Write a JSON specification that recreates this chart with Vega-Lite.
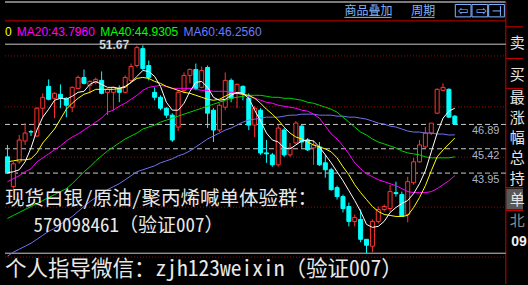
{
 "$schema": "https://vega.github.io/schema/vega-lite/v6.json",
 "width": 528, "height": 285,
 "autosize": {"type": "fit", "contains": "padding"},
 "padding": 0,
 "background": "#000000",
 "config": {"view": {"stroke": null}},
 "datasets": {
  "k": [
{"t":0,"o":44.93,"h":45.65,"l":43.91,"c":43.97,"m5":43.97,"m10":44.63,"m20":43.43,"m40":41.21,"m60":38.93},
{"t":1,"o":43.13,"h":44.63,"l":43.01,"c":44.51,"m5":44.03,"m10":44.69,"m20":43.61,"m40":41.39,"m60":39.17},
{"t":2,"o":44.63,"h":46.25,"l":44.51,"c":45.95,"m5":44.15,"m10":44.75,"m20":43.79,"m40":41.57,"m60":39.35},
{"t":3,"o":45.89,"h":46.97,"l":45.65,"c":46.37,"m5":44.63,"m10":44.75,"m20":44.03,"m40":41.75,"m60":39.53},
{"t":4,"o":46.46,"h":46.55,"l":46.19,"c":46.43,"m5":45.47,"m10":44.81,"m20":44.21,"m40":41.93,"m60":39.71},
{"t":5,"o":46.19,"h":47.93,"l":46.13,"c":47.87,"m5":46.55,"m10":45.17,"m20":44.63,"m40":42.11,"m60":39.95},
{"t":6,"o":47.87,"h":48.77,"l":47.33,"c":48.53,"m5":47.33,"m10":45.77,"m20":44.87,"m40":42.29,"m60":40.19},
{"t":7,"o":49.19,"h":49.61,"l":48.35,"c":48.41,"m5":47.81,"m10":46.19,"m20":45.11,"m40":42.47,"m60":40.43},
{"t":8,"o":48.47,"h":48.83,"l":47.27,"c":48.77,"m5":48.35,"m10":46.61,"m20":45.35,"m40":42.65,"m60":40.61},
{"t":9,"o":48.71,"h":49.31,"l":47.87,"c":48.47,"m5":48.47,"m10":47.21,"m20":45.59,"m40":42.83,"m60":40.85},
{"t":10,"o":48.47,"h":48.53,"l":47.33,"c":48.05,"m5":48.41,"m10":47.81,"m20":45.89,"m40":43.01,"m60":41.09},
{"t":11,"o":47.93,"h":49.19,"l":47.63,"c":49.13,"m5":48.59,"m10":48.17,"m20":46.13,"m40":43.31,"m60":41.33},
{"t":12,"o":49.07,"h":49.85,"l":49.01,"c":49.73,"m5":48.83,"m10":48.47,"m20":46.31,"m40":43.67,"m60":41.63},
{"t":13,"o":49.73,"h":50.21,"l":49.31,"c":49.37,"m5":48.89,"m10":48.71,"m20":46.55,"m40":44.03,"m60":41.93},
{"t":14,"o":49.25,"h":49.55,"l":48.77,"c":49.49,"m5":49.31,"m10":48.83,"m20":46.79,"m40":44.33,"m60":42.23},
{"t":15,"o":49.43,"h":49.73,"l":49.31,"c":49.61,"m5":49.49,"m10":49.01,"m20":47.03,"m40":44.69,"m60":42.47},
{"t":16,"o":49.55,"h":50.09,"l":48.71,"c":48.77,"m5":49.31,"m10":49.01,"m20":47.27,"m40":44.99,"m60":42.71},
{"t":17,"o":48.83,"h":49.07,"l":47.45,"c":49.01,"m5":49.13,"m10":49.01,"m20":47.63,"m40":45.29,"m60":42.95},
{"t":18,"o":48.83,"h":49.19,"l":47.75,"c":49.13,"m5":49.13,"m10":49.01,"m20":47.75,"m40":45.53,"m60":43.13},
{"t":19,"o":49.07,"h":49.25,"l":48.23,"c":48.83,"m5":49.07,"m10":49.07,"m20":47.99,"m40":45.77,"m60":43.31},
{"t":20,"o":48.83,"h":49.85,"l":48.77,"c":49.73,"m5":49.19,"m10":49.13,"m20":48.17,"m40":46.01,"m60":43.55},
{"t":21,"o":49.55,"h":50.57,"l":49.43,"c":50.39,"m5":49.43,"m10":49.43,"m20":48.41,"m40":46.19,"m60":43.79},
{"t":22,"o":50.45,"h":51.65,"l":50.33,"c":51.53,"m5":49.79,"m10":49.67,"m20":48.65,"m40":46.37,"m60":44.03},
{"t":23,"o":51.47,"h":51.67,"l":50.15,"c":50.27,"m5":50.15,"m10":49.73,"m20":48.95,"m40":46.61,"m60":44.15},
{"t":24,"o":50.45,"h":50.75,"l":49.55,"c":49.73,"m5":50.09,"m10":49.67,"m20":49.13,"m40":46.73,"m60":44.27},
{"t":25,"o":48.83,"h":49.13,"l":48.35,"c":48.53,"m5":49.79,"m10":49.49,"m20":49.19,"m40":46.85,"m60":44.39},
{"t":26,"o":48.53,"h":48.65,"l":47.75,"c":47.87,"m5":49.19,"m10":49.37,"m20":49.25,"m40":47.03,"m60":44.57},
{"t":27,"o":47.87,"h":47.93,"l":47.27,"c":47.45,"m5":48.23,"m10":49.19,"m20":49.19,"m40":47.15,"m60":44.69},
{"t":28,"o":47.45,"h":47.57,"l":45.83,"c":45.95,"m5":47.75,"m10":49.07,"m20":49.07,"m40":47.27,"m60":44.81},
{"t":29,"o":46.73,"h":48.95,"l":46.49,"c":48.83,"m5":47.75,"m10":48.95,"m20":49.07,"m40":47.39,"m60":44.99},
{"t":30,"o":48.95,"h":50.03,"l":48.77,"c":49.85,"m5":48.17,"m10":48.83,"m20":49.07,"m40":47.51,"m60":45.11},
{"t":31,"o":49.85,"h":50.27,"l":49.37,"c":50.21,"m5":48.89,"m10":48.77,"m20":49.07,"m40":47.63,"m60":45.29},
{"t":32,"o":50.21,"h":50.57,"l":48.95,"c":49.07,"m5":49.43,"m10":48.65,"m20":49.01,"m40":47.75,"m60":45.53},
{"t":33,"o":49.13,"h":50.39,"l":49.07,"c":50.15,"m5":49.49,"m10":48.53,"m20":48.95,"m40":47.87,"m60":45.77},
{"t":34,"o":50.33,"h":50.45,"l":46.67,"c":47.57,"m5":49.13,"m10":48.41,"m20":48.95,"m40":47.99,"m60":46.01},
{"t":35,"o":47.75,"h":47.87,"l":45.83,"c":46.55,"m5":48.53,"m10":48.35,"m20":48.89,"m40":48.11,"m60":46.19},
{"t":36,"o":46.55,"h":48.17,"l":46.43,"c":48.05,"m5":48.35,"m10":48.41,"m20":48.89,"m40":48.23,"m60":46.37},
{"t":37,"o":47.93,"h":50.03,"l":47.75,"c":49.55,"m5":48.41,"m10":48.59,"m20":48.89,"m40":48.35,"m60":46.55},
{"t":38,"o":49.55,"h":49.67,"l":48.23,"c":48.47,"m5":48.65,"m10":48.77,"m20":48.83,"m40":48.47,"m60":46.67},
{"t":39,"o":48.77,"h":49.37,"l":47.87,"c":49.31,"m5":48.83,"m10":48.77,"m20":48.77,"m40":48.53,"m60":46.85},
{"t":40,"o":49.19,"h":49.25,"l":48.35,"c":48.77,"m5":48.77,"m10":48.71,"m20":48.71,"m40":48.59,"m60":47.03},
{"t":41,"o":48.47,"h":48.77,"l":46.55,"c":46.85,"m5":48.47,"m10":48.65,"m20":48.59,"m40":48.65,"m60":47.15},
{"t":42,"o":46.85,"h":47.99,"l":46.13,"c":47.87,"m5":47.75,"m10":48.47,"m20":48.47,"m40":48.65,"m60":47.21},
{"t":43,"o":47.75,"h":47.87,"l":45.05,"c":45.17,"m5":47.09,"m10":48.17,"m20":48.35,"m40":48.65,"m60":47.27},
{"t":44,"o":45.17,"h":45.95,"l":44.57,"c":45.11,"m5":46.37,"m10":47.81,"m20":48.23,"m40":48.59,"m60":47.33},
{"t":45,"o":45.05,"h":45.17,"l":44.33,"c":44.45,"m5":45.95,"m10":47.51,"m20":48.17,"m40":48.53,"m60":47.33},
{"t":46,"o":44.45,"h":46.85,"l":44.33,"c":46.67,"m5":45.83,"m10":47.15,"m20":48.05,"m40":48.53,"m60":47.33},
{"t":47,"o":46.55,"h":46.67,"l":44.93,"c":45.05,"m5":45.47,"m10":46.73,"m20":47.99,"m40":48.47,"m60":47.39},
{"t":48,"o":45.05,"h":45.77,"l":44.93,"c":45.47,"m5":45.41,"m10":46.37,"m20":47.93,"m40":48.47,"m60":47.45},
{"t":49,"o":45.77,"h":47.09,"l":45.71,"c":46.97,"m5":45.65,"m10":46.13,"m20":47.87,"m40":48.41,"m60":47.45},
{"t":50,"o":46.79,"h":46.85,"l":45.47,"c":45.83,"m5":45.89,"m10":46.01,"m20":47.75,"m40":48.35,"m60":47.51},
{"t":51,"o":45.95,"h":46.07,"l":45.29,"c":45.35,"m5":45.95,"m10":45.83,"m20":47.69,"m40":48.23,"m60":47.51},
{"t":52,"o":45.47,"h":45.95,"l":44.45,"c":45.65,"m5":45.89,"m10":45.65,"m20":47.51,"m40":48.17,"m60":47.51},
{"t":53,"o":45.53,"h":45.83,"l":44.39,"c":44.45,"m5":45.53,"m10":45.53,"m20":47.27,"m40":48.05,"m60":47.45},
{"t":54,"o":44.57,"h":45.05,"l":43.67,"c":44.15,"m5":45.05,"m10":45.41,"m20":46.79,"m40":47.93,"m60":47.45},
{"t":55,"o":44.15,"h":44.27,"l":42.89,"c":42.95,"m5":44.57,"m10":45.23,"m20":46.31,"m40":47.81,"m60":47.45},
{"t":56,"o":43.07,"h":43.19,"l":42.35,"c":42.53,"m5":44.03,"m10":44.87,"m20":46.01,"m40":47.63,"m60":47.39},
{"t":57,"o":42.53,"h":42.65,"l":41.57,"c":41.81,"m5":43.49,"m10":44.33,"m20":45.59,"m40":47.33,"m60":47.39},
{"t":58,"o":41.93,"h":42.17,"l":40.73,"c":41.03,"m5":42.89,"m10":43.85,"m20":45.11,"m40":47.03,"m60":47.33},
{"t":59,"o":41.03,"h":41.45,"l":40.73,"c":41.27,"m5":42.29,"m10":43.25,"m20":44.57,"m40":46.73,"m60":47.33},
{"t":60,"o":41.15,"h":41.75,"l":39.77,"c":39.95,"m5":41.63,"m10":42.77,"m20":44.21,"m40":46.43,"m60":47.27},
{"t":61,"o":39.95,"h":39.95,"l":39.11,"c":39.59,"m5":40.85,"m10":42.35,"m20":43.91,"m40":46.25,"m60":47.21},
{"t":62,"o":39.53,"h":41.15,"l":39.17,"c":41.03,"m5":40.67,"m10":41.93,"m20":43.73,"m40":46.01,"m60":47.09},
{"t":63,"o":41.03,"h":41.93,"l":40.91,"c":41.75,"m5":40.73,"m10":41.63,"m20":43.55,"m40":45.83,"m60":46.97},
{"t":64,"o":41.75,"h":42.05,"l":41.63,"c":41.93,"m5":41.03,"m10":41.45,"m20":43.43,"m40":45.71,"m60":46.91},
{"t":65,"o":41.81,"h":43.25,"l":41.63,"c":42.83,"m5":41.57,"m10":41.39,"m20":43.31,"m40":45.59,"m60":46.79},
{"t":66,"o":42.77,"h":43.43,"l":42.53,"c":42.71,"m5":41.87,"m10":41.33,"m20":43.19,"m40":45.47,"m60":46.73},
{"t":67,"o":42.65,"h":42.83,"l":41.33,"c":41.33,"m5":42.11,"m10":41.33,"m20":43.01,"m40":45.29,"m60":46.61},
{"t":68,"o":41.45,"h":43.73,"l":40.97,"c":43.43,"m5":42.29,"m10":41.39,"m20":42.83,"m40":45.17,"m60":46.49},
{"t":69,"o":43.37,"h":44.87,"l":43.25,"c":44.63,"m5":42.71,"m10":41.87,"m20":42.77,"m40":45.11,"m60":46.43},
{"t":70,"o":44.63,"h":45.95,"l":44.57,"c":45.65,"m5":43.31,"m10":42.47,"m20":42.77,"m40":45.05,"m60":46.43},
{"t":71,"o":45.53,"h":46.73,"l":45.47,"c":46.37,"m5":44.09,"m10":43.19,"m20":42.77,"m40":44.93,"m60":46.37},
{"t":72,"o":46.37,"h":46.97,"l":46.25,"c":46.97,"m5":45.23,"m10":44.09,"m20":42.83,"m40":44.87,"m60":46.37},
{"t":73,"o":47.57,"h":49.07,"l":47.51,"c":49.01,"m5":46.37,"m10":44.93,"m20":43.01,"m40":44.87,"m60":46.31},
{"t":74,"o":48.95,"h":49.37,"l":48.89,"c":49.13,"m5":47.27,"m10":45.35,"m20":43.25,"m40":44.87,"m60":46.31},
{"t":75,"o":49.01,"h":49.07,"l":47.27,"c":47.33,"m5":47.69,"m10":45.71,"m20":43.49,"m40":44.87,"m60":46.25},
{"t":76,"o":47.39,"h":47.45,"l":46.91,"c":46.91,"m5":47.87,"m10":46.07,"m20":43.8,"m40":44.93,"m60":46.26}
  ],
  "dot": [{"v":51.03},{"v":47.95},{"v":44.91},{"v":41.89},{"v":38.87}],
  "dash": [{"v":46.89},{"v":45.42},{"v":43.95}],
  "sep": [{"v":52.79},{"v":50.87},{"v":49.07},{"v":43.07},{"v":41.69}]
 },
 "layer": [
  {"data": {"values": [{}]},
   "mark": {"type": "rule", "color": "#7a7a7a", "strokeWidth": 2},
   "encoding": {
    "x": {"datum": -0.416667, "type": "quantitative", "scale": {"domain": [-0.416667, 87.583333], "nice": false, "zero": false}, "axis": null},
    "x2": {"datum": 84.667},
    "y": {"datum": 54.288, "type": "quantitative", "scale": {"domain": [37.248, 54.348], "nice": false, "zero": false}, "axis": null}}},
  {"data": {"values": [{}]},
   "mark": {"type": "rule", "color": "#cc0000", "strokeWidth": 1},
   "encoding": {"x": {"datum": -0.416667, "type": "quantitative"}, "x2": {"datum": 84.667}, "y": {"datum": 53.148, "type": "quantitative"}}},
  {"data": {"values": [{}]},
   "mark": {"type": "rule", "color": "#cc0000", "strokeWidth": 1},
   "encoding": {"x": {"datum": 84.667, "type": "quantitative"}, "y": {"datum": 54.348, "type": "quantitative"}, "y2": {"datum": 37.248}}},
  {"data": {"name": "sep"},
   "mark": {"type": "rule", "color": "#cc0000", "strokeWidth": 1},
   "encoding": {"x": {"datum": 84.667, "type": "quantitative"}, "x2": {"datum": 87.583}, "y": {"field": "v", "type": "quantitative"}}},
  {"data": {"values": [{}]},
   "mark": {"type": "rect", "color": "#585858"},
   "encoding": {"x": {"datum": 84.75, "type": "quantitative"}, "x2": {"datum": 87.583}, "y": {"datum": 43.008, "type": "quantitative"}, "y2": {"datum": 41.748}}},
  {"data": {"values": [{}]},
   "mark": {"type": "rule", "color": "#c8c8c8", "strokeWidth": 1},
   "encoding": {"x": {"datum": -0.416667, "type": "quantitative"}, "x2": {"datum": 84.667}, "y": {"datum": 51.738, "type": "quantitative"}}},
  {"data": {"values": [{}]},
   "mark": {"type": "rule", "color": "#c8c8c8", "strokeWidth": 1},
   "encoding": {"x": {"datum": -0.416667, "type": "quantitative"}, "x2": {"datum": 84.667}, "y": {"datum": 39.108, "type": "quantitative"}}},
  {"data": {"name": "dot"},
   "mark": {"type": "rule", "color": "#a00000", "strokeWidth": 1, "strokeDash": [1, 2]},
   "encoding": {"x": {"datum": -0.416667, "type": "quantitative"}, "x2": {"datum": 84.667}, "y": {"field": "v", "type": "quantitative"}}},
  {"data": {"name": "dash"},
   "mark": {"type": "rule", "color": "#c8c8c8", "strokeWidth": 1, "strokeDash": [5, 3]},
   "encoding": {"x": {"datum": -0.416667, "type": "quantitative"}, "x2": {"datum": 84.667}, "y": {"field": "v", "type": "quantitative"}}},
  {"data": {"name": "dash"},
   "mark": {"type": "text", "align": "right", "baseline": "middle", "dy": 7, "font": "Liberation Sans", "fontSize": 11, "fill": "#aab4c8"},
   "encoding": {"x": {"datum": 83.583, "type": "quantitative"}, "y": {"field": "v", "type": "quantitative"}, "text": {"field": "v", "type": "quantitative", "format": ".2f"}}},
  {"data": {"name": "k"},
   "mark": {"type": "rule", "strokeWidth": 1},
   "encoding": {
    "x": {"field": "t", "type": "quantitative"},
    "y": {"field": "l", "type": "quantitative"},
    "y2": {"field": "h"},
    "color": {"condition": {"test": "datum.c >= datum.o", "value": "#ff3333"}, "value": "#00ffff"}}},
  {"data": {"name": "k"},
   "mark": {"type": "bar", "size": 4, "strokeWidth": 1},
   "encoding": {
    "x": {"field": "t", "type": "quantitative"},
    "y": {"field": "o", "type": "quantitative"},
    "y2": {"field": "c"},
    "fill": {"condition": {"test": "datum.c >= datum.o", "value": "#000000"}, "value": "#00ffff"},
    "stroke": {"condition": {"test": "datum.c >= datum.o", "value": "#ff3333"}, "value": "#00ffff"}}},
  {"data": {"name": "k"},
   "mark": {"type": "line", "color": "#7272f0", "strokeWidth": 1},
   "encoding": {"x": {"field": "t", "type": "quantitative"}, "y": {"field": "m60", "type": "quantitative"}}},
  {"data": {"name": "k"},
   "mark": {"type": "line", "color": "#00d400", "strokeWidth": 1},
   "encoding": {"x": {"field": "t", "type": "quantitative"}, "y": {"field": "m40", "type": "quantitative"}}},
  {"data": {"name": "k"},
   "mark": {"type": "line", "color": "#ff00ff", "strokeWidth": 1},
   "encoding": {"x": {"field": "t", "type": "quantitative"}, "y": {"field": "m20", "type": "quantitative"}}},
  {"data": {"name": "k"},
   "mark": {"type": "line", "color": "#ffff00", "strokeWidth": 1},
   "encoding": {"x": {"field": "t", "type": "quantitative"}, "y": {"field": "m10", "type": "quantitative"}}},
  {"data": {"name": "k"},
   "mark": {"type": "line", "color": "#ffffff", "strokeWidth": 1},
   "encoding": {"x": {"field": "t", "type": "quantitative"}, "y": {"field": "m5", "type": "quantitative"}}},
  {"data": {"values": [{}]},
   "mark": {"type": "text", "text": "0", "align": "left", "baseline": "middle", "font": "Liberation Sans", "fontSize": 12, "fill": "#ffff00", "clip": true},
   "encoding": {"x": {"datum": -0.416667, "type": "quantitative"}, "y": {"datum": 52.488, "type": "quantitative"}}},
  {"data": {"values": [{}]},
   "mark": {"type": "text", "text": "MA20:43.7960", "align": "left", "baseline": "middle", "font": "Liberation Sans", "fontSize": 12, "fill": "#ff00ff"},
   "encoding": {"x": {"datum": 1.5833, "type": "quantitative"}, "y": {"datum": 52.488, "type": "quantitative"}}},
  {"data": {"values": [{}]},
   "mark": {"type": "text", "text": "MA40:44.9305", "align": "left", "baseline": "middle", "font": "Liberation Sans", "fontSize": 12, "fill": "#00ff00"},
   "encoding": {"x": {"datum": 15.75, "type": "quantitative"}, "y": {"datum": 52.488, "type": "quantitative"}}},
  {"data": {"values": [{}]},
   "mark": {"type": "text", "text": "MA60:46.2560", "align": "left", "baseline": "middle", "font": "Liberation Sans", "fontSize": 12, "fill": "#6c7cff"},
   "encoding": {"x": {"datum": 29.9167, "type": "quantitative"}, "y": {"datum": 52.488, "type": "quantitative"}}},
  {"data": {"values": [{}]},
   "mark": {"type": "text", "text": "51.67", "align": "left", "baseline": "middle", "font": "Liberation Sans", "fontSize": 12, "fontWeight": "bold", "fill": "#ffffff", "stroke": "#505050", "strokeWidth": 0.4},
   "encoding": {"x": {"datum": 15.583, "type": "quantitative"}, "y": {"datum": 51.69, "type": "quantitative"}}},
  {"data": {"values": [{}]},
   "mark": {"type": "text", "text": "商品叠加", "align": "left", "baseline": "middle", "font": "Noto Sans CJK SC", "fontSize": 12, "fill": "#80b4ff"},
   "encoding": {"x": {"datum": 57.25, "type": "quantitative"}, "y": {"datum": 53.718, "type": "quantitative"}}},
  {"data": {"values": [{}]},
   "mark": {"type": "rule", "color": "#80b4ff", "strokeWidth": 1},
   "encoding": {"x": {"datum": 57.25, "type": "quantitative"}, "x2": {"datum": 65.25}, "y": {"datum": 53.358, "type": "quantitative"}}},
  {"data": {"values": [{}]},
   "mark": {"type": "text", "text": "周期", "align": "left", "baseline": "middle", "font": "Noto Sans CJK SC", "fontSize": 12, "fill": "#80b4ff"},
   "encoding": {"x": {"datum": 68.583, "type": "quantitative"}, "y": {"datum": 53.718, "type": "quantitative"}}},
  {"data": {"values": [{}]},
   "mark": {"type": "rule", "color": "#80b4ff", "strokeWidth": 1},
   "encoding": {"x": {"datum": 68.583, "type": "quantitative"}, "x2": {"datum": 72.583}, "y": {"datum": 53.358, "type": "quantitative"}}},
  {"data": {"values": [{}]},
   "mark": {"type": "rect", "filled": false, "stroke": "#80b4ff", "strokeWidth": 1},
   "encoding": {"x": {"datum": 76.083, "type": "quantitative"}, "x2": {"datum": 78.75}, "y": {"datum": 54.138, "type": "quantitative"}, "y2": {"datum": 53.388}}},
  {"data": {"values": [{}]},
   "mark": {"type": "rect", "filled": false, "stroke": "#80b4ff", "strokeWidth": 1},
   "encoding": {"x": {"datum": 78.917, "type": "quantitative"}, "x2": {"datum": 81.583}, "y": {"datum": 54.138, "type": "quantitative"}, "y2": {"datum": 53.388}}},
  {"data": {"values": [{}]},
   "mark": {"type": "rect", "filled": false, "stroke": "#80b4ff", "strokeWidth": 1},
   "encoding": {"x": {"datum": 81.75, "type": "quantitative"}, "x2": {"datum": 84.417}, "y": {"datum": 54.138, "type": "quantitative"}, "y2": {"datum": 53.388}}},
  {"data": {"values": [{}]},
   "mark": {"type": "text", "text": "⇦", "align": "center", "baseline": "middle", "font": "DejaVu Sans", "fontSize": 13, "fill": "#80b4ff"},
   "encoding": {"x": {"datum": 77.417, "type": "quantitative"}, "y": {"datum": 53.763, "type": "quantitative"}}},
  {"data": {"values": [{}]},
   "mark": {"type": "text", "text": "⇨", "align": "center", "baseline": "middle", "font": "DejaVu Sans", "fontSize": 13, "fill": "#80b4ff"},
   "encoding": {"x": {"datum": 80.583, "type": "quantitative"}, "y": {"datum": 53.763, "type": "quantitative"}}},
  {"data": {"values": [{}]},
   "mark": {"type": "rule", "color": "#80b4ff", "strokeWidth": 1},
   "encoding": {"x": {"datum": 82.417, "type": "quantitative"}, "x2": {"datum": 83.75}, "y": {"datum": 53.748, "type": "quantitative"}}},
  {"data": {"values": [{}]},
   "mark": {"type": "rule", "color": "#80b4ff", "strokeWidth": 1},
   "encoding": {"x": {"datum": 83.75, "type": "quantitative"}, "y": {"datum": 54.048, "type": "quantitative"}, "y2": {"datum": 53.448}}},
  {"data": {"values": [{}]},
   "mark": {"type": "text", "text": "卖", "align": "left", "baseline": "middle", "font": "Noto Sans CJK SC", "fontSize": 15, "fill": "#e4e4e4", "clip": true},
   "encoding": {"x": {"datum": 85.333, "type": "quantitative"}, "y": {"datum": 51.828, "type": "quantitative"}}},
  {"data": {"values": [{}]},
   "mark": {"type": "text", "text": "买", "align": "left", "baseline": "middle", "font": "Noto Sans CJK SC", "fontSize": 15, "fill": "#e4e4e4", "clip": true},
   "encoding": {"x": {"datum": 85.333, "type": "quantitative"}, "y": {"datum": 49.848, "type": "quantitative"}}},
  {"data": {"values": [{}]},
   "mark": {"type": "text", "text": "最", "align": "left", "baseline": "middle", "font": "Noto Sans CJK SC", "fontSize": 15, "fill": "#e4e4e4", "clip": true},
   "encoding": {"x": {"datum": 85.333, "type": "quantitative"}, "y": {"datum": 48.468, "type": "quantitative"}}},
  {"data": {"values": [{}]},
   "mark": {"type": "text", "text": "涨", "align": "left", "baseline": "middle", "font": "Noto Sans CJK SC", "fontSize": 15, "fill": "#e4e4e4", "clip": true},
   "encoding": {"x": {"datum": 85.333, "type": "quantitative"}, "y": {"datum": 47.268, "type": "quantitative"}}},
  {"data": {"values": [{}]},
   "mark": {"type": "text", "text": "幅", "align": "left", "baseline": "middle", "font": "Noto Sans CJK SC", "fontSize": 15, "fill": "#e4e4e4", "clip": true},
   "encoding": {"x": {"datum": 85.333, "type": "quantitative"}, "y": {"datum": 46.068, "type": "quantitative"}}},
  {"data": {"values": [{}]},
   "mark": {"type": "text", "text": "总", "align": "left", "baseline": "middle", "font": "Noto Sans CJK SC", "fontSize": 15, "fill": "#e4e4e4", "clip": true},
   "encoding": {"x": {"datum": 85.333, "type": "quantitative"}, "y": {"datum": 44.868, "type": "quantitative"}}},
  {"data": {"values": [{}]},
   "mark": {"type": "text", "text": "持", "align": "left", "baseline": "middle", "font": "Noto Sans CJK SC", "fontSize": 15, "fill": "#e4e4e4", "clip": true},
   "encoding": {"x": {"datum": 85.333, "type": "quantitative"}, "y": {"datum": 43.608, "type": "quantitative"}}},
  {"data": {"values": [{}]},
   "mark": {"type": "text", "text": "单", "align": "left", "baseline": "middle", "font": "Noto Sans CJK SC", "fontSize": 15, "fill": "#e4e4e4", "clip": true},
   "encoding": {"x": {"datum": 85.333, "type": "quantitative"}, "y": {"datum": 42.348, "type": "quantitative"}}},
  {"data": {"values": [{}]},
   "mark": {"type": "text", "text": "北", "align": "left", "baseline": "middle", "font": "Noto Sans CJK SC", "fontSize": 15, "fill": "#8c8c8c", "clip": true},
   "encoding": {"x": {"datum": 85.333, "type": "quantitative"}, "y": {"datum": 41.028, "type": "quantitative"}}},
  {"data": {"values": [{}]},
   "mark": {"type": "text", "text": "09", "align": "left", "baseline": "middle", "font": "Liberation Sans", "fontSize": 14, "fontWeight": "bold", "fill": "#f0f0f0", "clip": true},
   "encoding": {"x": {"datum": 85.583, "type": "quantitative"}, "y": {"datum": 39.768, "type": "quantitative"}}},
  {"data": {"values": [{}]},
   "mark": {"type": "text", "text": "现货白银/原油/聚丙烯喊单体验群：", "align": "left", "baseline": "middle", "font": "Noto Sans Mono CJK SC, Noto Sans CJK SC", "fontSize": 19.5, "fill": "#e8e8e8", "clip": true},
   "encoding": {"x": {"datum": -0.416667, "type": "quantitative"}, "y": {"datum": 42.408, "type": "quantitative"}}},
  {"data": {"values": [{}]},
   "mark": {"type": "text", "text": "579098461（验证007）", "align": "left", "baseline": "middle", "font": "Noto Sans Mono CJK SC, Noto Sans CJK SC", "fontSize": 19, "fill": "#e8e8e8", "clip": true},
   "encoding": {"x": {"datum": 4.4167, "type": "quantitative"}, "y": {"datum": 40.728, "type": "quantitative"}}},
  {"data": {"values": [{}]},
   "mark": {"type": "text", "text": "个人指导微信：zjh123weixin（验证007）", "align": "left", "baseline": "middle", "font": "Noto Sans Mono CJK SC, Noto Sans CJK SC", "fontSize": 21.5, "fill": "#e8e8e8", "clip": true},
   "encoding": {"x": {"datum": -0.416667, "type": "quantitative"}, "y": {"datum": 38.088, "type": "quantitative"}}}
 ]
}
